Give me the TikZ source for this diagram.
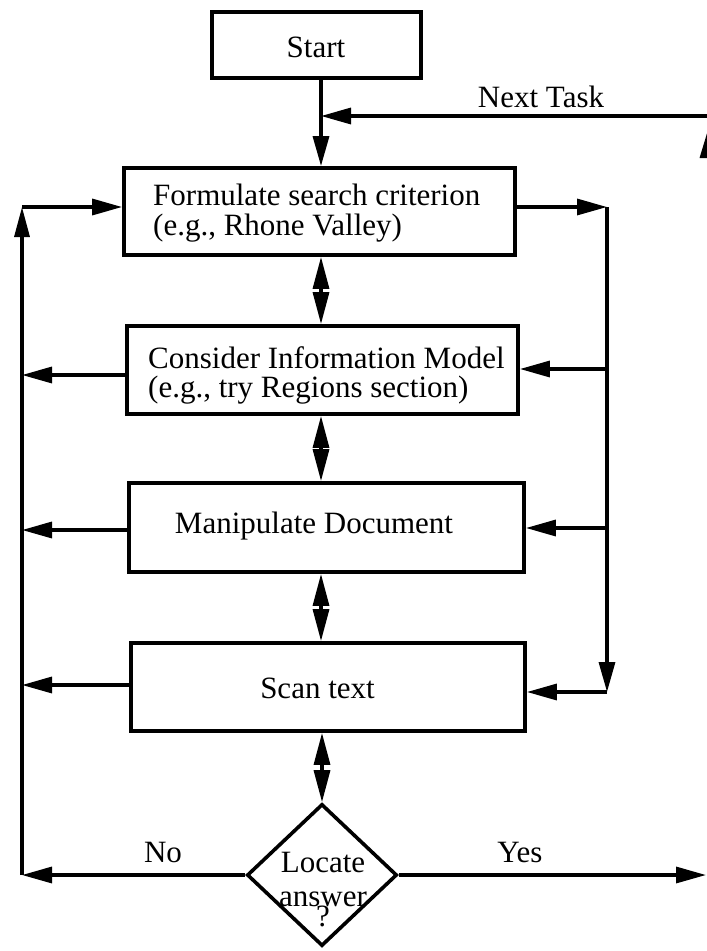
\documentclass[tikz,border=0pt]{standalone}
\usepackage{fontspec}
\setmainfont{Liberation Serif}
\usetikzlibrary{arrows.meta,shapes.geometric}
\begin{document}
\begin{tikzpicture}[x=1pt,y=-1pt,
  box/.style={draw, line width=3.8pt, rectangle, inner sep=0pt},
  txt/.style={font=\fontsize{31}{32}\selectfont, inner sep=0pt, anchor=base},
  ln/.style={line width=3.3pt},
  arr/.style={line width=3.3pt, -{Triangle[length=30pt,width=16pt]}},
  dbl/.style={line width=3.3pt, {Triangle[length=32pt,width=16pt]}-{Triangle[length=32pt,width=16pt]}}]
\useasboundingbox (0,0) rectangle (707,951);

% process boxes
\node[box, minimum width=209pt, minimum height=66pt] (start) at (316.5,45) {};
\node[box, minimum width=391pt, minimum height=87pt] (form) at (319.5,211.5) {};
\node[box, minimum width=391pt, minimum height=88pt] (cons) at (322.5,370) {};
\node[box, minimum width=395pt, minimum height=89pt] (manip) at (326.5,527.5) {};
\node[box, minimum width=394pt, minimum height=88pt] (scan) at (328,687) {};
\node[draw, diamond, line width=3.6pt, inner sep=0pt, minimum width=150pt, minimum height=142pt] (dec) at (322,875) {};

% box texts
\node[txt] (startT) at (316,57) {Start};
\node[txt, anchor=base west] (formT1) at (153,205) {Formulate search criterion};
\node[txt, anchor=base west] (formT2) at (153,235) {(e.g., Rhone Valley)};
\node[txt, anchor=base west] (consT1) at (148,368) {Consider Information Model};
\node[txt, anchor=base west] (consT2) at (148,397) {(e.g., try Regions section)};
\node[txt] (manipT) at (314,533) {Manipulate Document};
\node[txt] (scanT) at (317.5,698) {Scan text};
\node[txt, anchor=north, align=center] (decT) at (323,851.5) {Locate\\[2pt]answer\\[-12pt]?};

% edge labels
\node[txt] (ntT) at (541,107) {Next Task};
\node[txt] (noT) at (163,862) {No};
\node[txt] (yesT) at (520,862) {Yes};

% junctions and free ends
\coordinate (J) at (321,116);
\coordinate (NT) at (708,116);
\coordinate (UPa) at (708.5,220);
\coordinate (UPb) at (708.5,128);
\coordinate (LT) at (22,207);
\coordinate (LB) at (22,875);
\coordinate (L1) at (22,375);
\coordinate (L2) at (22,530);
\coordinate (L3) at (22,685);
\coordinate (RT) at (607,207);
\coordinate (R1) at (607,369);
\coordinate (R2) at (607,528);
\coordinate (RB) at (607,692);
\coordinate (YE) at (706,875);

% main flow
\draw[ln] (start.south -| J) -- (J);
\draw[arr] (J) -- (J |- form.north);
\draw[arr] (NT) -- (J);
\draw[arr, -{Triangle[length=30pt,width=17pt]}] (UPa) -- (UPb);
\draw[dbl] (form.south -| J) -- (cons.north -| J);
\draw[dbl] (cons.south -| J) -- (manip.north -| J);
\draw[dbl] (manip.south -| J) -- (scan.north -| J);
\draw[dbl] (scan.south -| dec.north) -- (dec.north);

% left return loop
\draw[arr] (dec.west) -- (LB);
\draw[arr, -{Triangle[length=30pt,width=15pt]}] (LB) -- (LT);
\draw[arr] (LT) -- (LT -| form.west);
\draw[arr] (cons.west |- L1) -- (L1);
\draw[arr] (manip.west |- L2) -- (L2);
\draw[arr] (scan.west |- L3) -- (L3);

% right feed line
\draw[arr] (form.east |- RT) -- (RT);
\draw[arr] (RT) -- (RB);
\draw[arr] (R1) -- (R1 -| cons.east);
\draw[arr] (R2) -- (R2 -| manip.east);
\draw[arr] (RB) -- (RB -| scan.east);

% exit
\draw[arr] (dec.east) -- (YE);
\end{tikzpicture}
\end{document}
